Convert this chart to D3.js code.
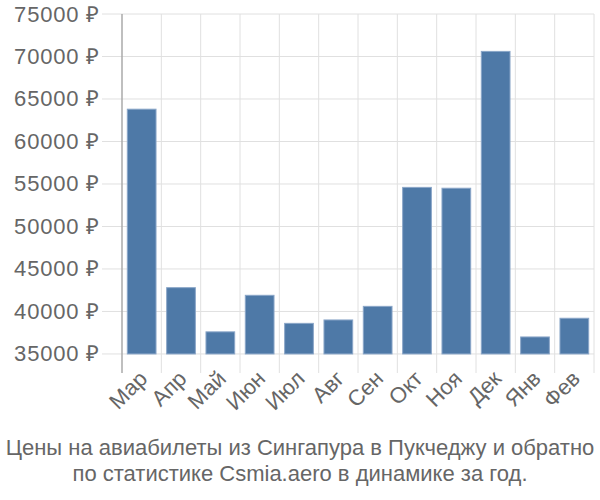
<!DOCTYPE html>
<html>
<head>
<meta charset="utf-8">
<script src="https://cdn.jsdelivr.net/npm/d3@7"></script>
<style>
  body { margin: 0; background: #fff; }
  text { font-family: "Liberation Sans", Arial, sans-serif; fill: #666; }
</style>
</head>
<body>
<script>
// data
var months = ['Мар', 'Апр', 'Май', 'Июн', 'Июл', 'Авг', 'Сен', 'Окт', 'Ноя', 'Дек', 'Янв', 'Фев'];
var prices = [63800, 42800, 37600, 41900, 38600, 39000, 40600, 54600, 54500, 70600, 37000, 39200];
var yTicks = [35000, 40000, 45000, 50000, 55000, 60000, 65000, 70000, 75000];
var titleLines = ['Цены на авиабилеты из Сингапура в Пукчеджу и обратно',
                  'по статистике Csmia.aero в динамике за год.'];

var w = 600, h = 500,
    pLeft = 122, pRight = 594, pTop = 14, pBottom = 365;

var svg = d3.select('body').append('svg')
    .attr('width', w)
    .attr('height', h);

var x = d3.scaleBand().domain(months).range([pLeft, pRight]).padding(0);
var y = d3.scaleLinear().domain([33700, 75000]).range([pBottom, pTop]);

// horizontal grid + y ticks
svg.selectAll('line.hgrid')
    .data(yTicks)
    .enter()
    .append('line')
    .attr('x1', pLeft - 20)
    .attr('x2', pRight)
    .attr('y1', function(d){ return y(d); })
    .attr('y2', function(d){ return y(d); })
    .attr('stroke', '#e0e0e0')
    .attr('stroke-width', 1);

// vertical grid at band edges, with ticks below
var edges = months.map(function(m){ return x(m); }).concat([pRight]);
svg.selectAll('line.vgrid')
    .data(edges.slice(1))
    .enter()
    .append('line')
    .attr('x1', function(d){ return d; })
    .attr('x2', function(d){ return d; })
    .attr('y1', pTop)
    .attr('y2', pBottom + 8)
    .attr('stroke', '#e0e0e0')
    .attr('stroke-width', 1);

// y axis line
svg.append('line')
    .attr('x1', pLeft).attr('x2', pLeft)
    .attr('y1', pTop).attr('y2', pBottom + 8)
    .attr('stroke', '#aaa')
    .attr('stroke-width', 1.5);

// bars
var bw = x.bandwidth();
svg.selectAll('rect')
    .data(prices)
    .enter()
    .append('rect')
    .attr('x', function(d, i){ return x(months[i]) + bw * 0.135; })
    .attr('y', function(d){ return y(d); })
    .attr('width', bw * 0.73)
    .attr('height', function(d){ return y(35000) - y(d); })
    .attr('fill', '#4e79a7')
    .attr('stroke', '#8aa6c8')
    .attr('stroke-width', 1);

// y labels
svg.selectAll('text.ylab')
    .data(yTicks)
    .enter()
    .append('text')
    .text(function(d){ return d + ' ₽'; })
    .attr('x', 100)
    .attr('y', function(d){ return y(d) + 7.5; })
    .attr('text-anchor', 'end')
    .attr('font-size', '22px')
    .attr('letter-spacing', '0.8px');

// x labels, rotated
svg.selectAll('text.xlab')
    .data(months)
    .enter()
    .append('text')
    .text(function(d){ return d; })
    .attr('text-anchor', 'end')
    .attr('font-size', '22px')
    .attr('transform', function(d){
      var cx = x(d) + bw / 2 + 7, cy = pBottom + 15;
      return 'translate(' + cx + ',' + cy + ') rotate(-45)';
    });

// title
svg.selectAll('text.title')
    .data(titleLines)
    .enter()
    .append('text')
    .text(function(d){ return d; })
    .attr('x', w / 2)
    .attr('y', function(d, i){ return 455 + i * 26; })
    .attr('text-anchor', 'middle')
    .attr('font-size', '22px');
</script>
</body>
</html>
